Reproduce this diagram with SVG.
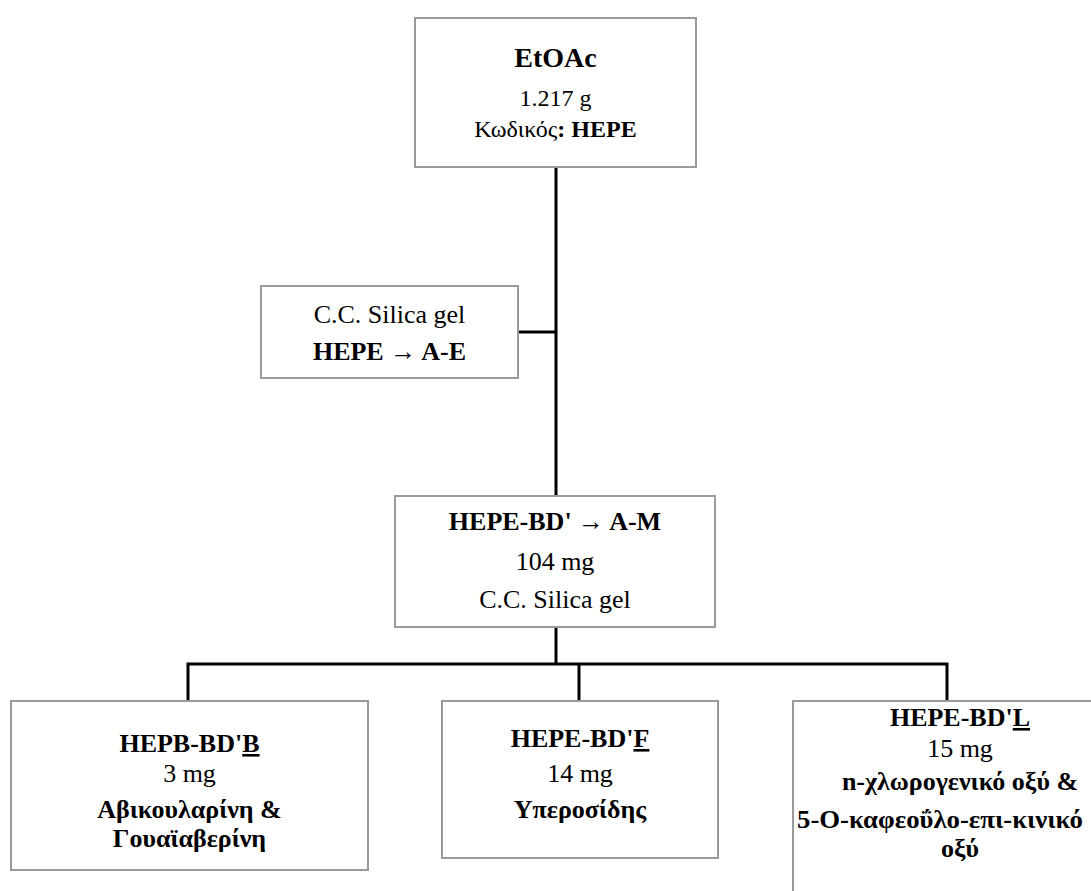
<svg xmlns="http://www.w3.org/2000/svg" width="1091" height="891" viewBox="0 0 1091 891">
<style>
.box{fill:#fff;stroke:#9a9a9a;stroke-width:2}
.con{stroke:#000;stroke-width:3;fill:none}
text{font-family:"Liberation Serif","Times New Roman",serif;fill:#000;text-anchor:middle}
.t24{font-size:24px}
.t26{font-size:26px}
.b{font-weight:bold}
.u{text-decoration:underline}
</style>
<rect width="1091" height="891" fill="#fff"/>
<g id="connectors">
<path class="con" d="M556 167 V496"/>
<path class="con" d="M518 332 H556"/>
<path class="con" d="M556 627 V664"/>
<path class="con" d="M188 701 V664 H947 V701"/>
<path class="con" d="M579 664 V701"/>
</g>
<g id="n-etoac">
<rect class="box" x="415" y="18" width="281" height="149"/>
<text x="555.5" y="67" class="b" font-size="28">EtOAc</text>
<text x="555.5" y="106" class="t24">1.217 g</text>
<text x="555.5" y="137" class="t24">Κωδικός<tspan class="b">: HEPE</tspan></text>
</g>
<g id="n-cc">
<rect class="box" x="261" y="286" width="257" height="92"/>
<text x="389.5" y="323" class="t26">C.C. Silica gel</text>
<text x="389.5" y="360" class="t26 b">HEPE → A-E</text>
</g>
<g id="n-bd">
<rect class="box" x="395" y="496" width="320" height="131"/>
<text x="555" y="530" class="t26 b">HEPE-BD' → A-M</text>
<text x="555" y="570" class="t26">104 mg</text>
<text x="555" y="608" class="t26">C.C. Silica gel</text>
</g>
<g id="n-b">
<rect class="box" x="11" y="701" width="357" height="169"/>
<text x="189.5" y="752" class="t26 b">HEPB-BD'<tspan class="u">B</tspan></text>
<text x="189.5" y="782" class="t26">3 mg</text>
<text x="189.5" y="818" class="t26 b">Αβικουλαρίνη &amp;</text>
<text x="189.5" y="847" class="t26 b">Γουαϊαβερίνη</text>
</g>
<g id="n-f">
<rect class="box" x="442" y="701" width="276" height="157"/>
<text x="580" y="747" class="t26 b">HEPE-BD'<tspan class="u">F</tspan></text>
<text x="580" y="782" class="t26">14 mg</text>
<text x="580" y="818" class="t26 b">Υπεροσίδης</text>
</g>
<g id="n-l">
<rect class="box" x="793" y="701" width="340" height="200"/>
<text x="960" y="726" class="t26 b">HEPE-BD'<tspan class="u">L</tspan></text>
<text x="960" y="757" class="t26">15 mg</text>
<text x="960" y="790" class="t26 b">n-χλωρογενικό οξύ &amp;</text>
<text x="940" y="828" class="t26 b" textLength="286" lengthAdjust="spacingAndGlyphs">5-O-καφεοΰλο-επι-κινικό</text>
<text x="960" y="857" class="t26 b">οξύ</text>
</g>
</svg>
